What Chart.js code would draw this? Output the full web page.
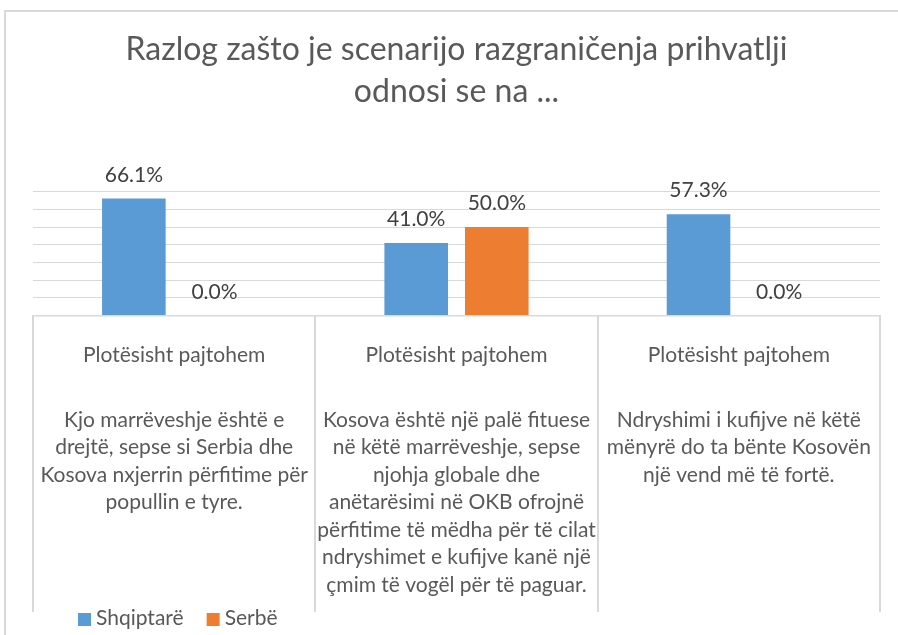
<!DOCTYPE html>
<html>
<head>
<meta charset="utf-8">
<script src="https://cdn.jsdelivr.net/npm/chart.js@4.4.1/dist/chart.umd.min.js"></script>
<style>
  body { margin: 0; background: #fff; }
</style>
</head>
<body>
<canvas id="chart" width="898" height="635"></canvas>
<script>
const titleLines = ['Razlog zašto je scenarijo razgraničenja prihvatlji', 'odnosi se na ...'];
const seriesNames = ['Shqiptarë', 'Serbë'];
const shqiptare = [66.1, 41.0, 57.3];
const serbe = [0.0, 50.0, 0.0];
const categoryHeads = ['Plotësisht pajtohem', 'Plotësisht pajtohem', 'Plotësisht pajtohem'];
const categoryText = [
  ['Kjo marrëveshje është e', 'drejtë, sepse si Serbia dhe', 'Kosova nxjerrin përfitime për', 'popullin e tyre.'],
  ['Kosova është një palë fituese', 'në këtë marrëveshje, sepse', 'njohja globale dhe', 'anëtarësimi në OKB ofrojnë',
   'përfitime të mëdha për të cilat', 'ndryshimet e kufijve kanë një', 'çmim të vogël për të paguar.'],
  ['Ndryshimi i kufijve në këtë', 'mënyrë do ta bënte Kosovën', 'një vend më të fortë.']
];

const textColor = '#595959';
const lineColor = '#d9d9d9';
const labelFont = '21px Lato';

// outer chart frame (runs off the right and bottom edge, like the source)
const frame = {
  id: 'frame',
  beforeDraw(chart) {
    const ctx = chart.ctx;
    ctx.save();
    ctx.strokeStyle = lineColor;
    ctx.lineWidth = 2;
    ctx.strokeRect(5, 11, chart.width + 20, chart.height + 20);
    ctx.restore();
  }
};

// value labels over the bars
const valueLabels = {
  id: 'valueLabels',
  afterDatasetsDraw(chart) {
    const ctx = chart.ctx;
    ctx.save();
    ctx.font = labelFont;
    ctx.fillStyle = '#404040';
    ctx.textAlign = 'center';
    ctx.textBaseline = 'middle';
    chart.data.datasets.forEach((ds, i) => {
      chart.getDatasetMeta(i).data.forEach((bar, j) => {
        ctx.fillText(ds.data[j].toFixed(1) + '%', bar.x, bar.y - 23.5);
      });
    });
    ctx.restore();
  }
};

// table-like category axis: separators + wrapped text
const categoryTable = {
  id: 'categoryTable',
  afterDraw(chart) {
    const { ctx, scales: { x } } = chart;
    ctx.save();
    ctx.strokeStyle = lineColor;
    ctx.lineWidth = 2;
    for (let i = 0; i <= categoryHeads.length; i++) {
      const px = Math.round(x.getPixelForValue(i - 0.5));
      ctx.beginPath();
      ctx.moveTo(px, x.top);
      ctx.lineTo(px, x.bottom);
      ctx.stroke();
    }
    ctx.fillStyle = textColor;
    ctx.font = labelFont;
    ctx.textAlign = 'center';
    ctx.textBaseline = 'alphabetic';
    categoryHeads.forEach((head, i) => {
      const cx = x.getPixelForValue(i);
      ctx.fillText(head, cx, x.top + 46);
      categoryText[i].forEach((line, j) => {
        ctx.fillText(line, cx, x.top + 111 + j * 27.5);
      });
    });
    ctx.restore();
  }
};

const bottomLegend = {
  id: 'bottomLegend',
  afterDraw(chart) {
    const { ctx, chartArea } = chart;
    ctx.save();
    ctx.font = labelFont;
    ctx.textAlign = 'left';
    ctx.textBaseline = 'alphabetic';
    let lx = chartArea.left + 45;
    const ly = chart.height - 10;
    chart.data.datasets.forEach(ds => {
      ctx.fillStyle = ds.backgroundColor;
      ctx.fillRect(lx, ly - 12, 13, 13);
      ctx.fillStyle = textColor;
      ctx.fillText(ds.label, lx + 18, ly);
      lx += 18 + ctx.measureText(ds.label).width + 23;
    });
    ctx.restore();
  }
};

const chart = new Chart(document.getElementById('chart'), {
  type: 'bar',
  data: {
    labels: categoryHeads,
    datasets: [
      { label: seriesNames[0], data: shqiptare, backgroundColor: '#5b9bd5',
        categoryPercentage: 0.571, barPercentage: 0.789 },
      { label: seriesNames[1], data: serbe, backgroundColor: '#ed7d31',
        categoryPercentage: 0.571, barPercentage: 0.789 }
    ]
  },
  options: {
    responsive: false,
    animation: false,
    devicePixelRatio: 1,
    layout: { padding: { top: 0, left: 33, right: 18, bottom: 23 } },
    plugins: {
      legend: { display: false },
      tooltip: { enabled: false },
      title: {
        display: true,
        text: titleLines,
        color: textColor,
        font: { family: 'Lato', size: 32, weight: 'normal', lineHeight: '42px' },
        padding: { top: 29, bottom: 78.7 }
      }
    },
    scales: {
      x: {
        grid: { display: false },
        ticks: { display: false },
        border: { display: true, color: lineColor, width: 1.5 },
        afterFit(scale) { scale.height = 296.5; }
      },
      y: {
        min: 0,
        max: 70,
        ticks: { display: false, stepSize: 10 },
        grid: { color: lineColor, drawTicks: false },
        border: { display: false },
        afterFit(scale) { scale.width = 0; }
      }
    }
  },
  plugins: [frame, valueLabels, categoryTable, bottomLegend]
});
</script>
</body>
</html>
